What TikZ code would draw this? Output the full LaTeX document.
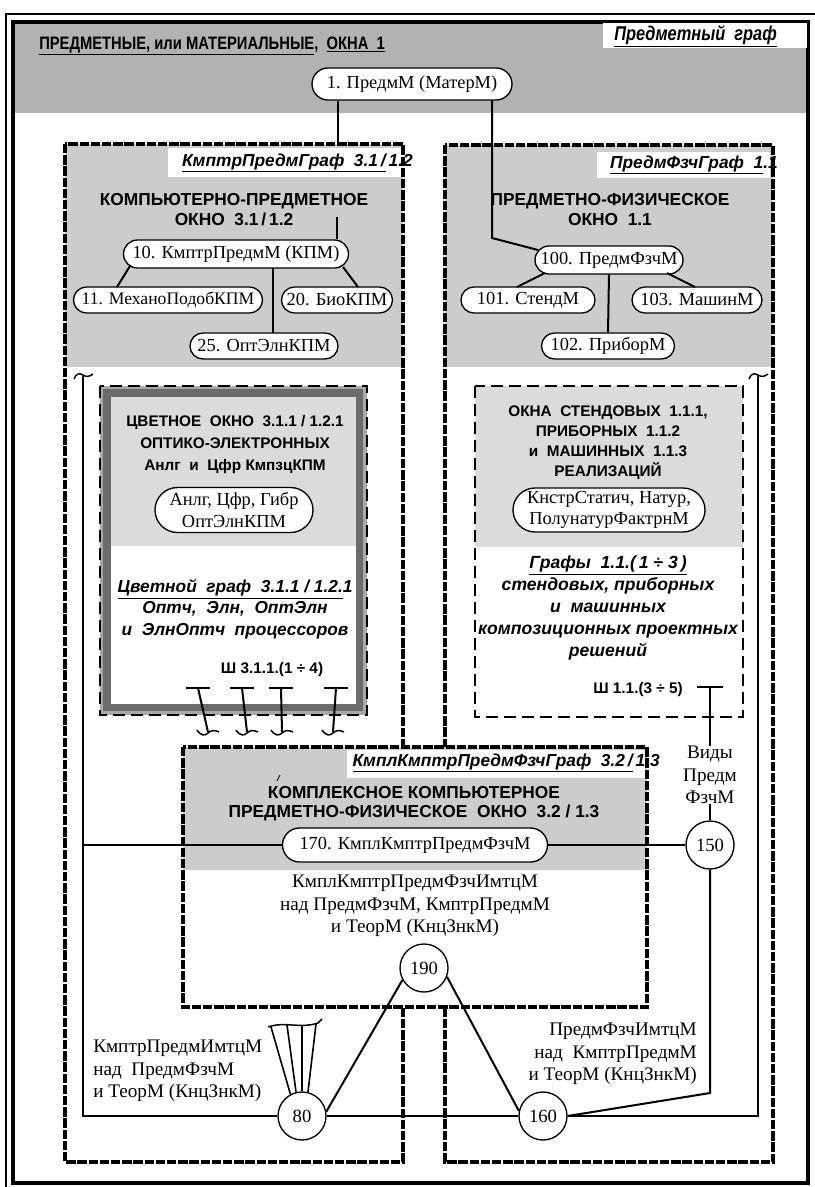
\documentclass[tikz,border=0pt]{standalone}
\usepackage{fontspec}
\setmainfont{Liberation Serif}
\newfontfamily\hsans{Liberation Sans}
\newfontfamily\hnar{Liberation Sans}[FakeStretch=0.82]
\usetikzlibrary{shapes.misc,calc}
\definecolor{bandg}{gray}{0.70}
\definecolor{boxg}{gray}{0.80}
\definecolor{inng}{gray}{0.86}
\definecolor{darkfr}{gray}{0.42}
\definecolor{lightfr}{gray}{0.66}
\begin{document}
\begin{tikzpicture}[x=0.75pt,y=-0.75pt,
  conn/.style={line width=1.5pt},
  bigdash/.style={line width=2.3pt, dash pattern=on 7pt off 1.4pt},
  smalldash/.style={line width=1.6pt, dash pattern=on 9pt off 4.5pt},
  mnode/.style={draw, line width=1pt, fill=white, rounded rectangle, inner sep=0pt, font=\fontsize{13.8}{15}\selectfont},
  cnode/.style={draw, circle, line width=1pt, fill=white, minimum size=36pt, inner sep=0pt, font=\fontsize{14}{15}\selectfont},
  hdt/.style={font=\hsans\bfseries\fontsize{13}{15}\selectfont, align=center, inner sep=0pt},
  hds/.style={font=\hsans\bfseries\fontsize{11.5}{16.5}\selectfont, align=center, inner sep=0pt},
  ttl/.style={font=\hsans\bfseries\itshape\fontsize{13}{15}\selectfont, inner sep=0pt},
  itx/.style={font=\hsans\bfseries\itshape\fontsize{13.2}{16.6}\selectfont, align=center, inner sep=0pt},
  srt/.style={font=\fontsize{14.4}{16.9}\selectfont, inner sep=0pt},
  wv/.pic={\draw[line width=1.1pt] (-9,4) .. controls (-7,-2) and (-3,-2) .. (0,0) .. controls (3,2) and (6,2) .. (10,-1);},
  ft/.pic={\draw[line width=1.1pt] (-11,-3) .. controls (-7,3) and (-3,3) .. (0,0) .. controls (3,-3) and (7,-3) .. (11,-1);}
]
\useasboundingbox (0,0) rectangle (814,1187);
\fill[white] (0,0) rectangle (814,1187);
% outer frames
\draw[line width=0.8pt] (6,1190) -- (6,14) -- (817,14);
\fill[bandg] (13,22) rectangle (808,113);
\draw[line width=2.6pt] (13,22) rectangle (808,1183);
% heading
\node[anchor=west, inner sep=0pt, font=\hnar\bfseries\fontsize{13.5}{16}\selectfont] (h1) at (39,46)
  {\underline{ПРЕДМЕТНЫЕ, или МАТЕРИАЛЬНЫЕ},\ \ \underline{ОКНА\ \ 1}};
\fill[white] (603,23) rectangle (807,48);
\node[anchor=west, inner sep=0pt, font=\hnar\bfseries\itshape\fontsize{15}{17}\selectfont] (t1) at (614,36)
  {\underline{Предметный\ \ граф}};

% left box
\fill[white] (65,144) rectangle (403,1162);
\fill[boxg] (65,144) rectangle (403,367);
\fill[white] (168,148) rectangle (403,177);
\node[ttl, anchor=east] (t2) at (413,163) {\underline{КмптрПредмГраф\ \ 3.1\,/}\,1.2};
\node[hdt] (h2) at (234,210) {КОМПЬЮТЕРНО-ПРЕДМЕТНОЕ\\ОКНО\ \ 3.1\,/\,1.2};
\draw[bigdash] (65,144) rectangle (403,1162);

% right box
\fill[white] (445,145) rectangle (773,1162);
\fill[boxg] (445,145) rectangle (773,367);
\fill[white] (597,152) rectangle (770,178);
\node[ttl, anchor=east] (t3) at (778,165) {\underline{ПредмФзчГраф\ \ 1}.1};
\node[hdt] (h3) at (610,210) {ПРЕДМЕТНО-ФИЗИЧЕСКОЕ\\ОКНО\ \ 1.1};
\draw[bigdash] (445,145) rectangle (773,1162);

% inner left box
\fill[lightfr] (100,386) rectangle (367,715);
\fill[darkfr] (103,389) rectangle (363,711);
\fill[white] (111,397) rectangle (356,704);
\fill[inng] (111,397) rectangle (356,546);
\draw[smalldash] (100,386) rectangle (367,715);
\node[hds] (h4) at (235,445) {ЦВЕТНОЕ\ \ ОКНО\ \ 3.1.1 / 1.2.1\\ОПТИКО-ЭЛЕКТРОННЫХ\\Анлг\ \ и\ \ Цфр КмпзцКПМ};
\node[itx, font=\hsans\bfseries\itshape\fontsize{13}{16}\selectfont] (g4) at (235,609) {\underline{Цветной\ \ граф\ \ 3.1.1 / 1.2.}1\\Оптч,\ \ Элн,\ \ ОптЭлн\\и\ \ ЭлнОптч\ \ процессоров};
\node[font=\hsans\bfseries\fontsize{11.5}{12}\selectfont, inner sep=0pt] (s4) at (272,670) {Ш 3.1.1.(1 ÷ 4)};

% inner right box
\fill[white] (475,386) rectangle (743,717);
\fill[inng] (475,386) rectangle (743,547);
\draw[smalldash] (475,386) rectangle (743,717);
\node[hds, font=\hsans\bfseries\fontsize{11.5}{15}\selectfont] (h5) at (608,443) {ОКНА\ \ СТЕНДОВЫХ\ \ 1.1.1,\\ПРИБОРНЫХ\ \ 1.1.2\\и\ \ МАШИННЫХ\ \ 1.1.3\\РЕАЛИЗАЦИЙ};
\node[itx] (g5) at (608,608) {\underline{Графы\ \ 1.1.(}\underline{\,1 ÷ 3\,)}\\стендовых, приборных\\и\ \ машинных\\композиционных проектных\\решений};
\node[font=\hsans\bfseries\fontsize{11.5}{12}\selectfont, inner sep=0pt] (s5) at (638,690) {Ш 1.1.(3 ÷ 5)};

% middle box
\fill[white] (183,747) rectangle (647,1007);
\fill[boxg] (183,747) rectangle (647,870);
\fill[white] (347,750) rectangle (645,778);
\node[ttl, anchor=east] (t6) at (660,763) {\underline{КмплКмптрПредмФзчГраф\ \ 3.2\,/}\,1.3};
\node[hdt, font=\hsans\bfseries\fontsize{13}{14.3}\selectfont] (h6) at (414,804) {КОМПЛЕКСНОЕ КОМПЬЮТЕРНОЕ\\ПРЕДМЕТНО-ФИЗИЧЕСКОЕ\ \ ОКНО\ \ 3.2 / 1.3};
\draw[line width=0.6pt] (277,781) -- (280,775);
\draw[bigdash] (183,747) rectangle (647,1007);
\node[srt, align=center] (x6) at (415,906) {КмплКмптрПредмФзчИмтцМ\\над ПредмФзчМ, КмптрПредмМ\\и ТеорМ (КнцЗнкМ)};

% free texts
\node[srt, align=left, anchor=west] (xl) at (93,1071) {КмптрПредмИмтцМ\\над\ \ ПредмФзчМ\\и ТеорМ (КнцЗнкМ)};
\node[srt, align=right, anchor=east] (xr) at (697,1054) {ПредмФзчИмтцМ\\над\ \ КмптрПредмМ\\и ТеорМ (КнцЗнкМ)};
\node[srt, align=center] (vid) at (710,775) {Виды\\Предм\\ФзчМ};

% nodes
\node[mnode, minimum width=150pt, minimum height=24pt] (n1) at (412,84) {1. ПредмМ (МатерМ)};
\node[mnode, minimum width=168.75pt, minimum height=21pt] (n10) at (236,254) {10. КмптрПредмМ (КПМ)};
\node[mnode, minimum width=141.75pt, minimum height=19.5pt, font=\fontsize{13.2}{15}\selectfont] (n11) at (168,300) {11. МеханоПодобКПМ};
\node[mnode, minimum width=83.25pt, minimum height=19.5pt] (n20) at (337,300) {20. БиоКПМ};
\node[mnode, minimum width=111pt, minimum height=19.5pt] (n25) at (264,346) {25. ОптЭлнКПМ};
\node[mnode, minimum width=111pt, minimum height=21pt] (n100) at (609,260) {100. ПредмФзчМ};
\node[mnode, minimum width=100.5pt, minimum height=19.5pt] (n101) at (528,300) {101. СтендМ};
\node[mnode, minimum width=97.5pt, minimum height=19.5pt] (n103) at (697,300) {103. МашинМ};
\node[mnode, minimum width=99.75pt, minimum height=19.5pt] (n102) at (608,346) {102. ПриборМ};
\node[mnode, minimum width=118.5pt, minimum height=33.75pt, align=center, font=\fontsize{13.8}{15.8}\selectfont] (nan) at (234,510) {Анлг, Цфр, Гибр\\ОптЭлнКПМ};
\node[mnode, minimum width=144pt, minimum height=33pt, align=center, font=\fontsize{13.8}{15.8}\selectfont] (nkn) at (609,510) {КнстрСтатич, Натур,\\ПолунатурФактрнМ};
\node[mnode, minimum width=198.75pt, minimum height=25.5pt] (n170) at (415,845) {170. КмплКмптрПредмФзчМ};
\node[cnode] (n150) at (710,845) {150};
\node[cnode] (n190) at (424,968) {190};
\node[cnode] (n80) at (302,1116) {80};
\node[cnode] (n160) at (543,1116) {160};

% connectors top
\coordinate (ctl) at (338,144);
\coordinate (cil) at (337,217);
\coordinate (cr1) at (492,238);
\draw[conn] (n1.south -| ctl) -- (ctl);
\draw[conn] (cil) -- (cil |- n10.north);
\draw[conn] (n1.south -| cr1) -- (cr1) -- (n100.172);
\draw[conn] ($(n10.center)+(-106,12)$) -- ($(n11.center)+(-51,-13)$);
\draw[conn] ($(n10.center)+(107,13)$) -- ($(n20.center)+(21,-13)$);
\draw[conn] ($(n10.center)+(37,14)$) -- ($(n25.center)+(9,-13)$);
\draw[conn] ($(n100.center)+(-64,13)$) -- ($(n101.center)+(-11,-13)$);
\draw[conn] ($(n100.center)+(58,13)$) -- ($(n103.center)+(-2,-13)$);
\draw[conn] (n100.south) -- (n102.north);

% side verticals
\coordinate (lv) at (83,375);
\coordinate (rv) at (758,375);
\draw[conn] (lv) -- (lv |- n80) -- (n80.west);
\draw[conn] (lv |- n170) -- (n170.west);
\pic at (lv) {wv};
\draw[conn] (rv) -- (rv |- n160) -- (n160.east);
\pic at (rv) {wv};
\coordinate (c150) at (710,1093);
\draw[conn] (n160.east) -- (c150) -- (n150.south);
\draw[conn] (n170.east) -- (n150.west);
\draw[conn] (n80.east) -- (n160.west);
\draw[conn] (n190.209) -- (n80.10);
\draw[conn] (n190.339) -- (n160.168);

% T marker to 150
\coordinate (tm) at (710,687);
\draw[conn] (697,687) -- (723,687);
\draw[conn] (tm) -- (vid.north);
\draw[conn] (vid.south) -- (n150.north);

% I-beam markers
\foreach \tx/\bx in {198/208, 242/247, 281/282, 336/333}{
  \draw[conn] (\tx-12,688) -- (\tx+12,688);
  \draw[conn] (\tx,688) -- (\bx,732);
  \pic at (\bx,733) {ft};
}

% fan at node 80
\draw[line width=1.2pt] (n80.118) -- (271,1027);
\draw[line width=1.2pt] (n80.104) -- (287,1025);
\draw[line width=1.2pt] (n80.90) -- (302,1025);
\draw[line width=1.2pt] (n80.76) -- (316,1024);
\draw[line width=1.1pt] (268,1027) .. controls (285,1021) and (300,1029) .. (318,1023) -- (322,1019);
\end{tikzpicture}
\end{document}
